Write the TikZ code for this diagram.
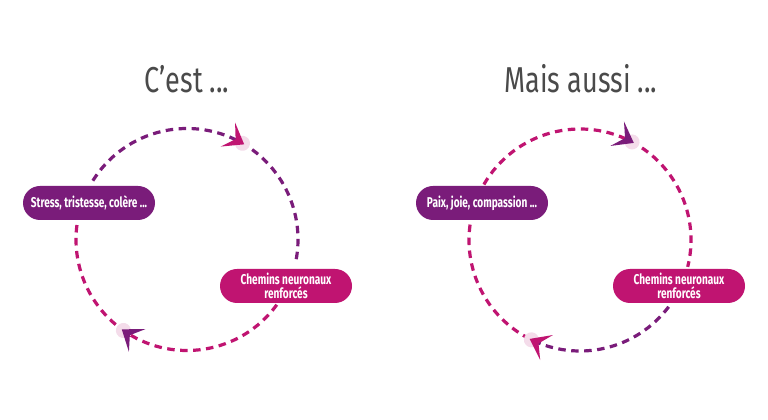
\documentclass[tikz,border=0pt]{standalone}
\usepackage{fontspec}
\setmainfont{Fira Sans}
\newfontfamily\condfont[FakeStretch=0.75]{Fira Sans}
\newfontfamily\boxfont[FakeStretch=0.71]{Fira Sans}
\definecolor{pur}{HTML}{7A1C7A}
\definecolor{mag}{HTML}{C01471}
\definecolor{halo}{HTML}{F4DCEA}
\definecolor{titlegray}{HTML}{4A4A4A}
\tikzset{
 pill/.style={rounded corners=17pt, minimum width=132pt, minimum height=34pt, text=white,
   font=\boxfont\bfseries\fontsize{14.2}{13.5}\selectfont, align=center, inner sep=0pt},
 loopline/.style={line width=3.2pt, dash pattern=on 7.5pt off 5.5pt},
 titletext/.style={font=\condfont\fontsize{36}{40}\selectfont, text=titlegray},
 tipmark/.pic={\fill[halo] (-2,0) circle (7.5);
   \fill[#1] (0,0) -- (-19,14) -- (-10,0) -- (-19,-14) -- cycle;}
}
\begin{document}
\begin{tikzpicture}[x=1pt,y=1pt]
\useasboundingbox[fill=white] (0,0) rectangle (768,420);
% centres
\coordinate (CL) at (187,180.5);
\coordinate (CR) at (580,180);
% titles
\node[titletext] (t1) at (187,341) {C’est ...};
\node[titletext] (t2) at (581,341) {Mais aussi ...};
% left loop
\draw[loopline, pur] (CL) ++(148:111) arc (148:-12:111);
\draw[loopline, mag] (CL) ++(-36:111) arc (-36:-189:111);
\path (CL) ++(59:111) pic[rotate=-31] {tipmark=mag};
\path (CL) ++(-126:111) pic[rotate=-216] {tipmark=pur};
% right loop
\draw[loopline, mag] (CR) ++(150:111) arc (150:-14:111);
\draw[loopline, pur] (CR) ++(-37:111) arc (-37:-117:111);
\draw[loopline, mag] (CR) ++(-117:111) arc (-117:-190:111);
\path (CR) ++(61:111) pic[rotate=-29] {tipmark=pur};
\path (CR) ++(-117:111) pic[rotate=-207] {tipmark=mag};
% nodes
\node[pill, fill=pur] (s) at (89,217) {Stress, tristesse, colère ...};
\node[pill, fill=mag] (c1) at (286,134) {Chemins neuronaux\\renforcés};
\node[pill, fill=pur] (p) at (482,217) {Paix, joie, compassion ...};
\node[pill, fill=mag] (c2) at (679,134) {Chemins neuronaux\\renforcés};
\end{tikzpicture}
\end{document}
